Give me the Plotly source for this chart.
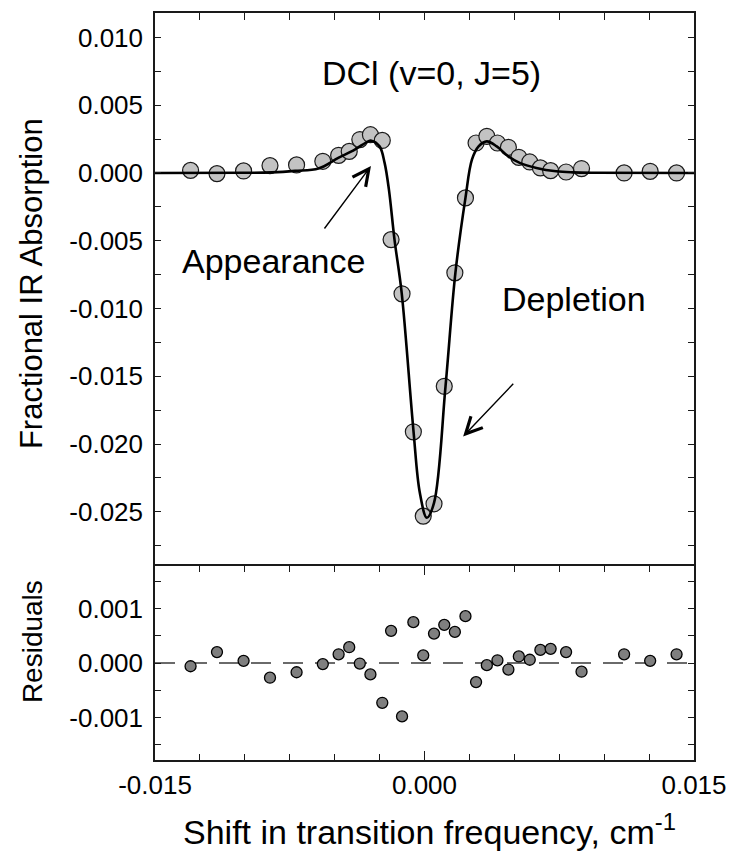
import plotly.graph_objects as go

# ---------------- data ----------------
shift = [-0.01302, -0.01155, -0.01007, -0.00860, -0.00712, -0.00566, -0.00478, -0.00419,
         -0.00360, -0.00301, -0.00235, -0.00186, -0.00125, -0.00062, -0.00007, 0.00053,
         0.00110, 0.00169, 0.00228, 0.00287, 0.00347, 0.00406, 0.00467, 0.00525,
         0.00586, 0.00645, 0.00702, 0.00788, 0.00874, 0.01111, 0.01256, 0.01403]

absorption = [0.00019, -0.00005, 0.00015, 0.00054, 0.00059, 0.00086, 0.00130, 0.00159,
              0.00246, 0.00282, 0.00240, -0.00492, -0.00892, -0.01910, -0.02532, -0.02441,
              -0.01574, -0.00737, -0.00184, 0.00221, 0.00270, 0.00221, 0.00189, 0.00115,
              0.00081, 0.00037, 0.00017, 0.00007, 0.00032, 0.00000, 0.00012, 0.00000]

residuals = [-0.00006, 0.00020, 0.00004, -0.00027, -0.00017, -0.00002, 0.00016, 0.00029,
             -0.00001, -0.00021, -0.00073, 0.00059, -0.00098, 0.00075, 0.00014, 0.00054,
             0.00070, 0.00057, 0.00086, -0.00035, -0.00004, 0.00005, -0.00012, 0.00012,
             0.00006, 0.00024, 0.00026, 0.00020, -0.00016, 0.00016, 0.00004, 0.00016]

fit_shift = [-0.0150, -0.0100, -0.0085, -0.0072, -0.0059, -0.0048, -0.00388, -0.00314,
             -0.00296, -0.0025, -0.00222, -0.00198, -0.00167, -0.00127, -0.00062, -0.00026,
             0.00013, 0.00053, 0.00117, 0.00172, 0.00228, 0.00264, 0.00301, 0.00347,
             0.00402, 0.00466, 0.0053, 0.00623, 0.00733, 0.00825, 0.0095, 0.0150]
fit_absorption = [0.0, 0.00001, 0.00004, 0.00015, 0.00033, 0.00111, 0.00172, 0.00233,
                  0.00238, 0.00196, 0.00074, -0.00123, -0.00492, -0.00885, -0.01893, -0.02360,
                  -0.02544, -0.02434, -0.01574, -0.00737, -0.00184, 0.00098, 0.00196, 0.00233,
                  0.00196, 0.00122, 0.00074, 0.00037, 0.00012, 0.00004, 0.00001, 0.0]

x_tickvals = [-0.015, 0.0, 0.015]
x_ticktext = ["-0.015", "0.000", "0.015"]
x_minorvals = [-0.0125, -0.01, -0.0075, -0.005, -0.0025, 0.0025, 0.005, 0.0075, 0.01, 0.0125]

main_tickvals = [0.010, 0.005, 0.0, -0.005, -0.010, -0.015, -0.020, -0.025]
main_ticktext = ["0.010", "0.005", "0.000", "-0.005", "-0.010", "-0.015", "-0.020", "-0.025"]
main_minorvals = [0.0075, 0.0025, -0.0025, -0.0075, -0.0125, -0.0175, -0.0225, -0.0275]

res_tickvals = [0.001, 0.0, -0.001]
res_ticktext = ["0.001", "0.000", "-0.001"]
res_minorvals = [0.0015, 0.0005, -0.0005, -0.0015]

# ---------------- figure ----------------
FONT = "Liberation Sans, Arial, sans-serif"
LINE = "#1a1a1a"
fig = go.Figure()

fig.add_trace(go.Scatter(
    x=shift, y=absorption, mode="markers", xaxis="x", yaxis="y",
    marker=dict(size=16, color="#c3c3c3", line=dict(color="#1a1a1a", width=1.2)),
    showlegend=False, hoverinfo="skip"))

fig.add_trace(go.Scatter(
    x=fit_shift, y=fit_absorption, mode="lines", xaxis="x", yaxis="y",
    line=dict(color="black", width=2.6, shape="spline", smoothing=1.0),
    showlegend=False, hoverinfo="skip"))

fig.add_trace(go.Scatter(
    x=shift, y=residuals, mode="markers", xaxis="x2", yaxis="y2",
    marker=dict(size=11, color="#7f7f7f", line=dict(color="black", width=1.3)),
    showlegend=False, hoverinfo="skip"))

fig.add_shape(type="line", xref="x2 domain", yref="y2", x0=0, x1=1, y0=0, y1=0,
              line=dict(color="#3a3a3a", width=1.3, dash="20px,12px"), layer="below")

split = 194 / 747
axis_common = dict(showline=True, linecolor=LINE, linewidth=1.5, showgrid=False,
                   zeroline=False, ticks="inside", tickcolor=LINE, tickwidth=1.3)
minor_common = dict(tickmode="array", ticks="inside", tickcolor=LINE, tickwidth=1.3)

fig.update_layout(
    width=739, height=851,
    margin=dict(l=155, r=40, t=13, b=91),
    paper_bgcolor="white", plot_bgcolor="white",
    font=dict(family=FONT, size=26, color="black"),
    xaxis=dict(domain=[0, 1], range=[-0.015, 0.015], anchor="y", side="top",
               mirror=False, showticklabels=False, tickmode="array",
               tickvals=x_tickvals, ticklen=7,
               minor=dict(tickvals=x_minorvals, ticklen=7, **minor_common),
               **axis_common),
    yaxis=dict(domain=[split, 1], range=[-0.029, 0.0118], anchor="x",
               mirror="ticks", tickmode="array", tickvals=main_tickvals,
               ticktext=main_ticktext, ticklen=6, ticklabelstandoff=5,
               minor=dict(tickvals=main_minorvals, ticklen=6, **minor_common),
               **axis_common),
    xaxis2=dict(domain=[0, 1], range=[-0.015, 0.015], anchor="y2",
                mirror="ticks", tickmode="array", tickvals=x_tickvals,
                ticktext=x_ticktext, ticklen=9, ticklabelstandoff=1,
                minor=dict(tickvals=x_minorvals, ticklen=6, **minor_common),
                **axis_common),
    yaxis2=dict(domain=[0, split], range=[-0.00178, 0.00178], anchor="x2",
                mirror="ticks", tickmode="array", tickvals=res_tickvals,
                ticktext=res_ticktext, ticklen=6, ticklabelstandoff=5,
                minor=dict(tickvals=res_minorvals, ticklen=6, **minor_common),
                **axis_common),
)

# axis titles
fig.add_annotation(text="Fractional IR Absorption", xref="paper", yref="paper",
                   x=-0.228, y=(760 - 284) / 747, textangle=-90, showarrow=False,
                   xanchor="center", yanchor="middle", font=dict(size=31))
fig.add_annotation(text="Residuals", xref="paper", yref="paper",
                   x=-0.228, y=(760 - 642) / 747, textangle=-90, showarrow=False,
                   xanchor="center", yanchor="middle", font=dict(size=28))
fig.add_annotation(text="Shift in transition frequency, cm<sup>-1</sup>", xref="paper",
                   yref="paper", x=0.51, y=(760 - 829) / 747, showarrow=False,
                   xanchor="center", yanchor="middle", font=dict(size=34))

# in-plot labels
fig.add_annotation(text="DCl (v=0, J=5)", xref="x", yref="y", x=0.00039, y=0.0074,
                   showarrow=False, font=dict(size=34))
fig.add_annotation(text="Appearance", xref="x", yref="y", x=-0.00838, y=-0.0065,
                   showarrow=False, font=dict(size=34))
fig.add_annotation(text="Depletion", xref="x", yref="y", x=0.00833, y=-0.0093,
                   showarrow=False, font=dict(size=34))

# arrows
fig.add_annotation(x=-0.00298, y=0.00052, ax=-0.00563, ay=-0.00421,
                   xref="x", yref="y", axref="x", ayref="y", text="",
                   showarrow=True, arrowhead=5, arrowsize=2.3, arrowwidth=1.4,
                   arrowcolor="black")
fig.add_annotation(x=0.00215, y=-0.01944, ax=0.00502, ay=-0.01545,
                   xref="x", yref="y", axref="x", ayref="y", text="",
                   showarrow=True, arrowhead=5, arrowsize=2.3, arrowwidth=1.4,
                   arrowcolor="black")

fig.write_html("out.html")
